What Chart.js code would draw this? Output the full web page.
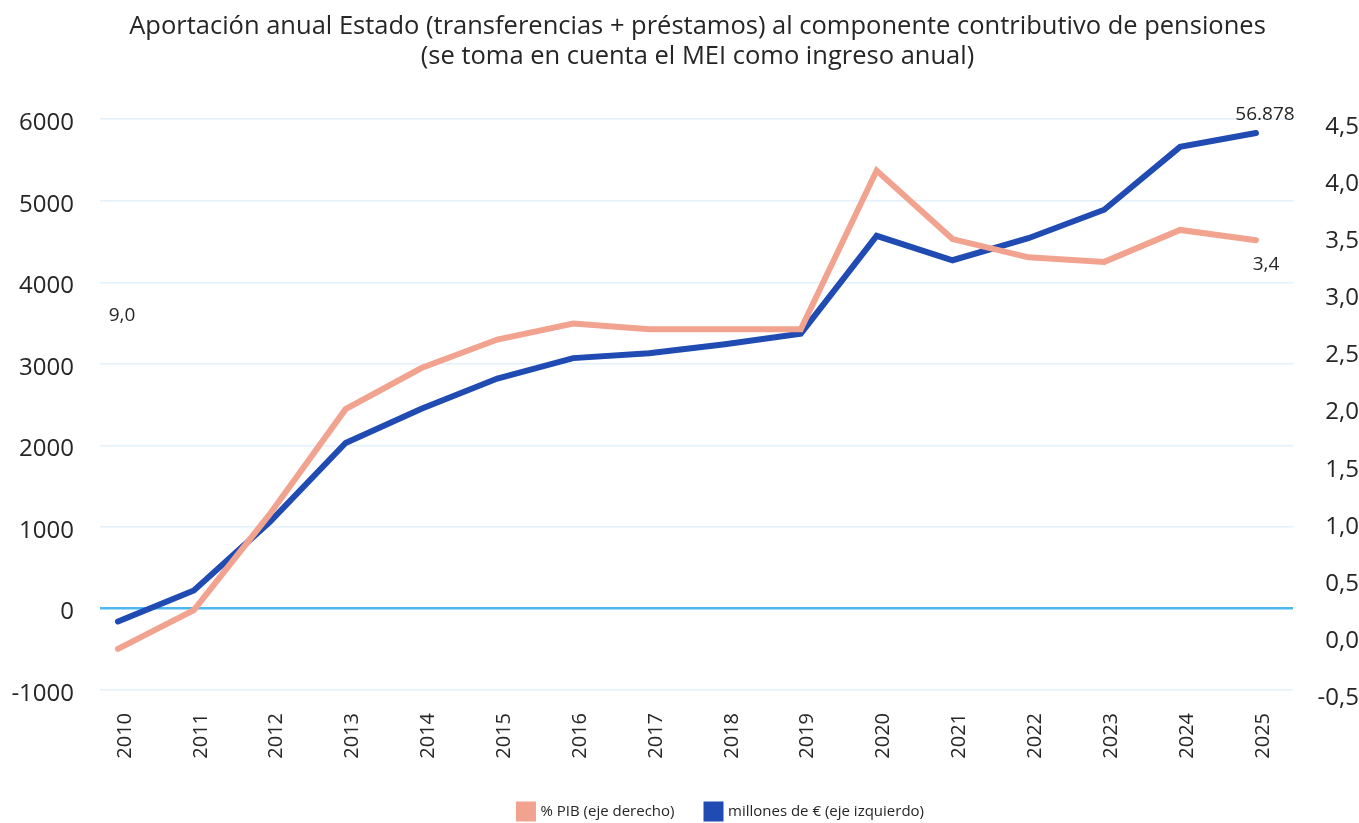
<!DOCTYPE html>
<html>
<head>
<meta charset="utf-8">
<script src="https://cdn.jsdelivr.net/npm/chart.js@4"></script>
<style>
  html, body { margin: 0; padding: 0; background: #fff; }
  #wrap { width: 1359px; height: 823px; }
</style>
</head>
<body>
<div id="wrap"><canvas id="chart"></canvas></div>
<script>
// datos
var years = [2010, 2011, 2012, 2013, 2014, 2015, 2016, 2017, 2018, 2019, 2020, 2021, 2022, 2023, 2024, 2025];
var millones = [-160, 220, 1060, 2030, 2450, 2820, 3070, 3130, 3240, 3370, 4570, 4270, 4540, 4890, 5660, 5830];
var pctPIB = [-0.14, 0.20, 1.04, 1.96, 2.32, 2.57, 2.71, 2.66, 2.66, 2.66, 4.05, 3.45, 3.29, 3.25, 3.53, 3.44];
var seriesNames = ['% PIB (eje derecho)', 'millones de € (eje izquierdo)'];
var titleLines = ['Aportación anual Estado (transferencias + préstamos) al componente contributivo de pensiones',
                  '(se toma en cuenta el MEI como ingreso anual)'];
var labels = [
    {text: '56.878', x: 2025, axis: 'y', value: millones[15], dx: 9, dy: -18},
    {text: '3,4', x: 2025, axis: 'y1', value: pctPIB[15], dx: 10, dy: 24},
    {text: '9,0', x: 2010, axis: 'y', value: 3590, dx: 4, dy: 0}
];

Chart.defaults.font.family = "'Open Sans', sans-serif";
Chart.defaults.color = '#262626';

function pts(vals) {
    return vals.map(function (v, i) { return {x: years[i], y: v}; });
}

var textLabels = {
    id: 'textLabels',
    afterDatasetsDraw: function (chart) {
        var ctx = chart.ctx;
        ctx.save();
        ctx.font = "19px 'Open Sans', sans-serif";
        ctx.fillStyle = '#262626';
        ctx.textAlign = 'center';
        ctx.textBaseline = 'middle';
        labels.forEach(function (l) {
            var px = chart.scales.x.getPixelForValue(l.x) + l.dx;
            var py = chart.scales[l.axis].getPixelForValue(l.value) + l.dy;
            ctx.fillText(l.text, px, py);
        });
        ctx.restore();
    }
};

// mueve leyenda y titulo un poco a la derecha / abajo
var nudge = {
    id: 'nudge',
    afterLayout: function (chart) {
        if (chart.legend) {
            chart.legend.left += 42; chart.legend.right += 42;
            chart.legend.top += 10; chart.legend.bottom += 10;
        }
        if (chart.titleBlock) {
            chart.titleBlock.left += 18; chart.titleBlock.right += 18;
        }
    }
};

var chart = new Chart(document.getElementById('chart'), {
    type: 'line',
    data: {
        datasets: [{
            label: seriesNames[0],
            data: pts(pctPIB),
            yAxisID: 'y1',
            borderColor: '#f2a38f',
            backgroundColor: '#f2a38f',
            borderWidth: 6,
            borderCapStyle: 'round',
            pointRadius: 0,
            fill: false
        }, {
            label: seriesNames[1],
            data: pts(millones),
            yAxisID: 'y',
            borderColor: '#1f4bb2',
            backgroundColor: '#1f4bb2',
            borderWidth: 6,
            borderCapStyle: 'round',
            pointRadius: 0,
            fill: false
        }]
    },
    options: {
        responsive: true,
        maintainAspectRatio: false,
        animation: false,
        devicePixelRatio: 1,
        layout: { padding: { left: 0, right: 0, top: 0, bottom: 4 } },
        plugins: {
            title: {
                display: true,
                text: titleLines,
                color: '#262626',
                font: { size: 25.5, weight: 'normal', lineHeight: 1.18 },
                padding: { top: 12, bottom: 47 }
            },
            legend: {
                position: 'bottom',
                labels: {
                    boxWidth: 14,
                    boxHeight: 14,
                    padding: 32,
                    color: '#262626',
                    font: { size: 15 }
                }
            },
            tooltip: { enabled: false }
        },
        scales: {
            x: {
                type: 'linear',
                min: 2009.763,
                max: 2025.488,
                grid: { display: false, drawTicks: false },
                border: { display: false },
                afterFit: function (s) { s.height = 72; },
                ticks: {
                    stepSize: 1,
                    includeBounds: false,
                    autoSkip: false,
                    maxTicksLimit: 30,
                    minRotation: 90,
                    maxRotation: 90,
                    padding: 23,
                    labelOffset: 7,
                    color: '#262626',
                    font: { size: 20 },
                    callback: function (v) { return String(v); }
                }
            },
            y: {
                position: 'left',
                min: -1000,
                max: 6000,
                border: { display: false },
                afterFit: function (s) { s.width = 100; },
                grid: {
                    drawTicks: false,
                    color: function (c) { return c.tick && c.tick.value === 0 ? '#4cb8ee' : '#e2f1fb'; },
                    lineWidth: function (c) { return c.tick && c.tick.value === 0 ? 2.5 : 1.5; }
                },
                ticks: {
                    stepSize: 1000,
                    padding: 26,
                    labelOffset: 4,
                    color: '#262626',
                    font: { size: 24 },
                    callback: function (v) { return String(v); }
                }
            },
            y1: {
                position: 'right',
                min: -0.5,
                max: 4.5,
                border: { display: false },
                afterFit: function (s) { s.width = 66; },
                grid: { display: false, drawTicks: false },
                ticks: {
                    stepSize: 0.5,
                    padding: 13,
                    crossAlign: 'far',
                    labelOffset: 8,
                    color: '#262626',
                    font: { size: 24 },
                    callback: function (v) { return v.toFixed(1).replace('.', ','); }
                }
            }
        }
    },
    plugins: [textLabels, nudge]
});
</script>
</body>
</html>
